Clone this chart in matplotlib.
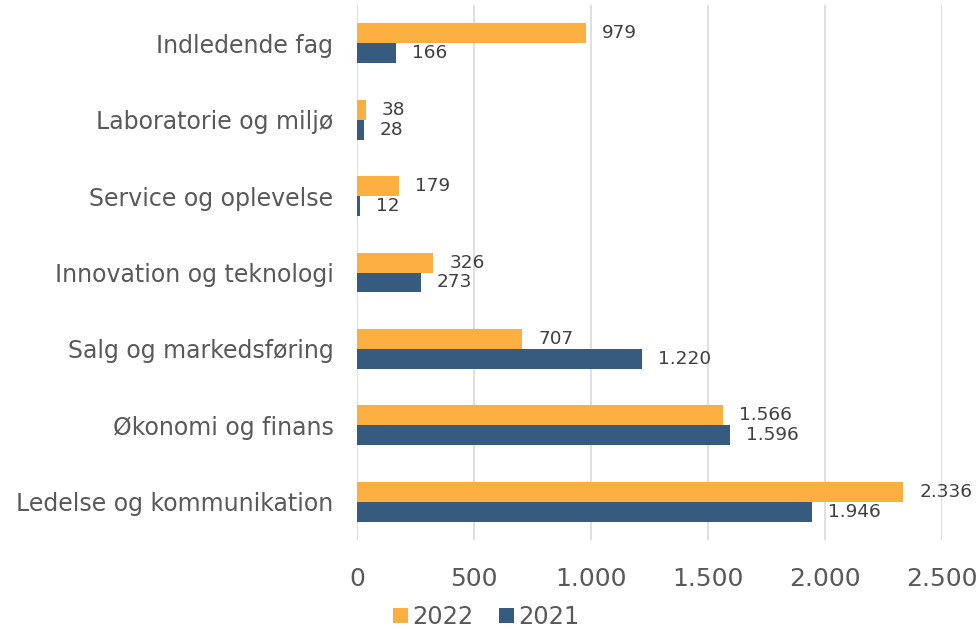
import matplotlib
matplotlib.use("Agg")
import matplotlib.pyplot as plt
import numpy as np
from matplotlib.ticker import FuncFormatter

categories = ["Ledelse og kommunikation", "Økonomi og finans", "Salg og markedsføring",
              "Innovation og teknologi", "Service og oplevelse", "Laboratorie og miljø",
              "Indledende fag"]
v2022 = [2336, 1566, 707, 326, 179, 38, 979]
v2021 = [1946, 1596, 1220, 273, 12, 28, 166]
xticks = [0, 500, 1000, 1500, 2000, 2500]

c22 = "#FBAF41"
c21 = "#375A7F"
tc = "#595959"

def dk(v):
    return f"{int(v):,}".replace(",", ".")

fig = plt.figure(figsize=(9.79, 6.29), dpi=100)
ax = fig.add_axes([0.3647, 0.1415, 0.5973, 0.8505])

y = np.arange(len(categories))
h = 0.26
b22 = ax.barh(y + h / 2, v2022, height=h, color=c22, label="2022", zorder=3)
b21 = ax.barh(y - h / 2, v2021, height=h, color=c21, label="2021", zorder=3)

for yy, v in zip(y, v2022):
    ax.annotate(dk(v), (v, yy + h / 2), xytext=(11.5, 0), textcoords="offset points",
                va="center", ha="left", fontsize=13.3, color="#404040")
for yy, v in zip(y, v2021):
    ax.annotate(dk(v), (v, yy - h / 2), xytext=(11.5, 0), textcoords="offset points",
                va="center", ha="left", fontsize=13.3, color="#404040")

ax.set_xlim(0, 2500)
ax.set_ylim(-0.5, len(categories) - 0.5)
ax.set_xticks(xticks)
ax.xaxis.set_major_formatter(FuncFormatter(lambda v, p: dk(v)))
ax.set_yticks(y)
ax.set_yticklabels(categories)
ax.tick_params(axis="x", length=0, labelsize=18, colors=tc, pad=19.5)
ax.tick_params(axis="y", length=0, labelsize=17, colors=tc, pad=17)
ax.grid(axis="x", color="#D9D9D9", linewidth=1.2, zorder=0)
for s in ax.spines.values():
    s.set_visible(False)

leg = fig.legend(handles=[b22, b21], labels=["2022", "2021"], loc="center",
                 bbox_to_anchor=(0.497, 0.019), ncol=2, frameon=False, fontsize=17.4,
                 handlelength=0.6, handleheight=0.6, handletextpad=0.2, columnspacing=1.05)
for t in leg.get_texts():
    t.set_color(tc)

fig.savefig("out.png", dpi=100)
